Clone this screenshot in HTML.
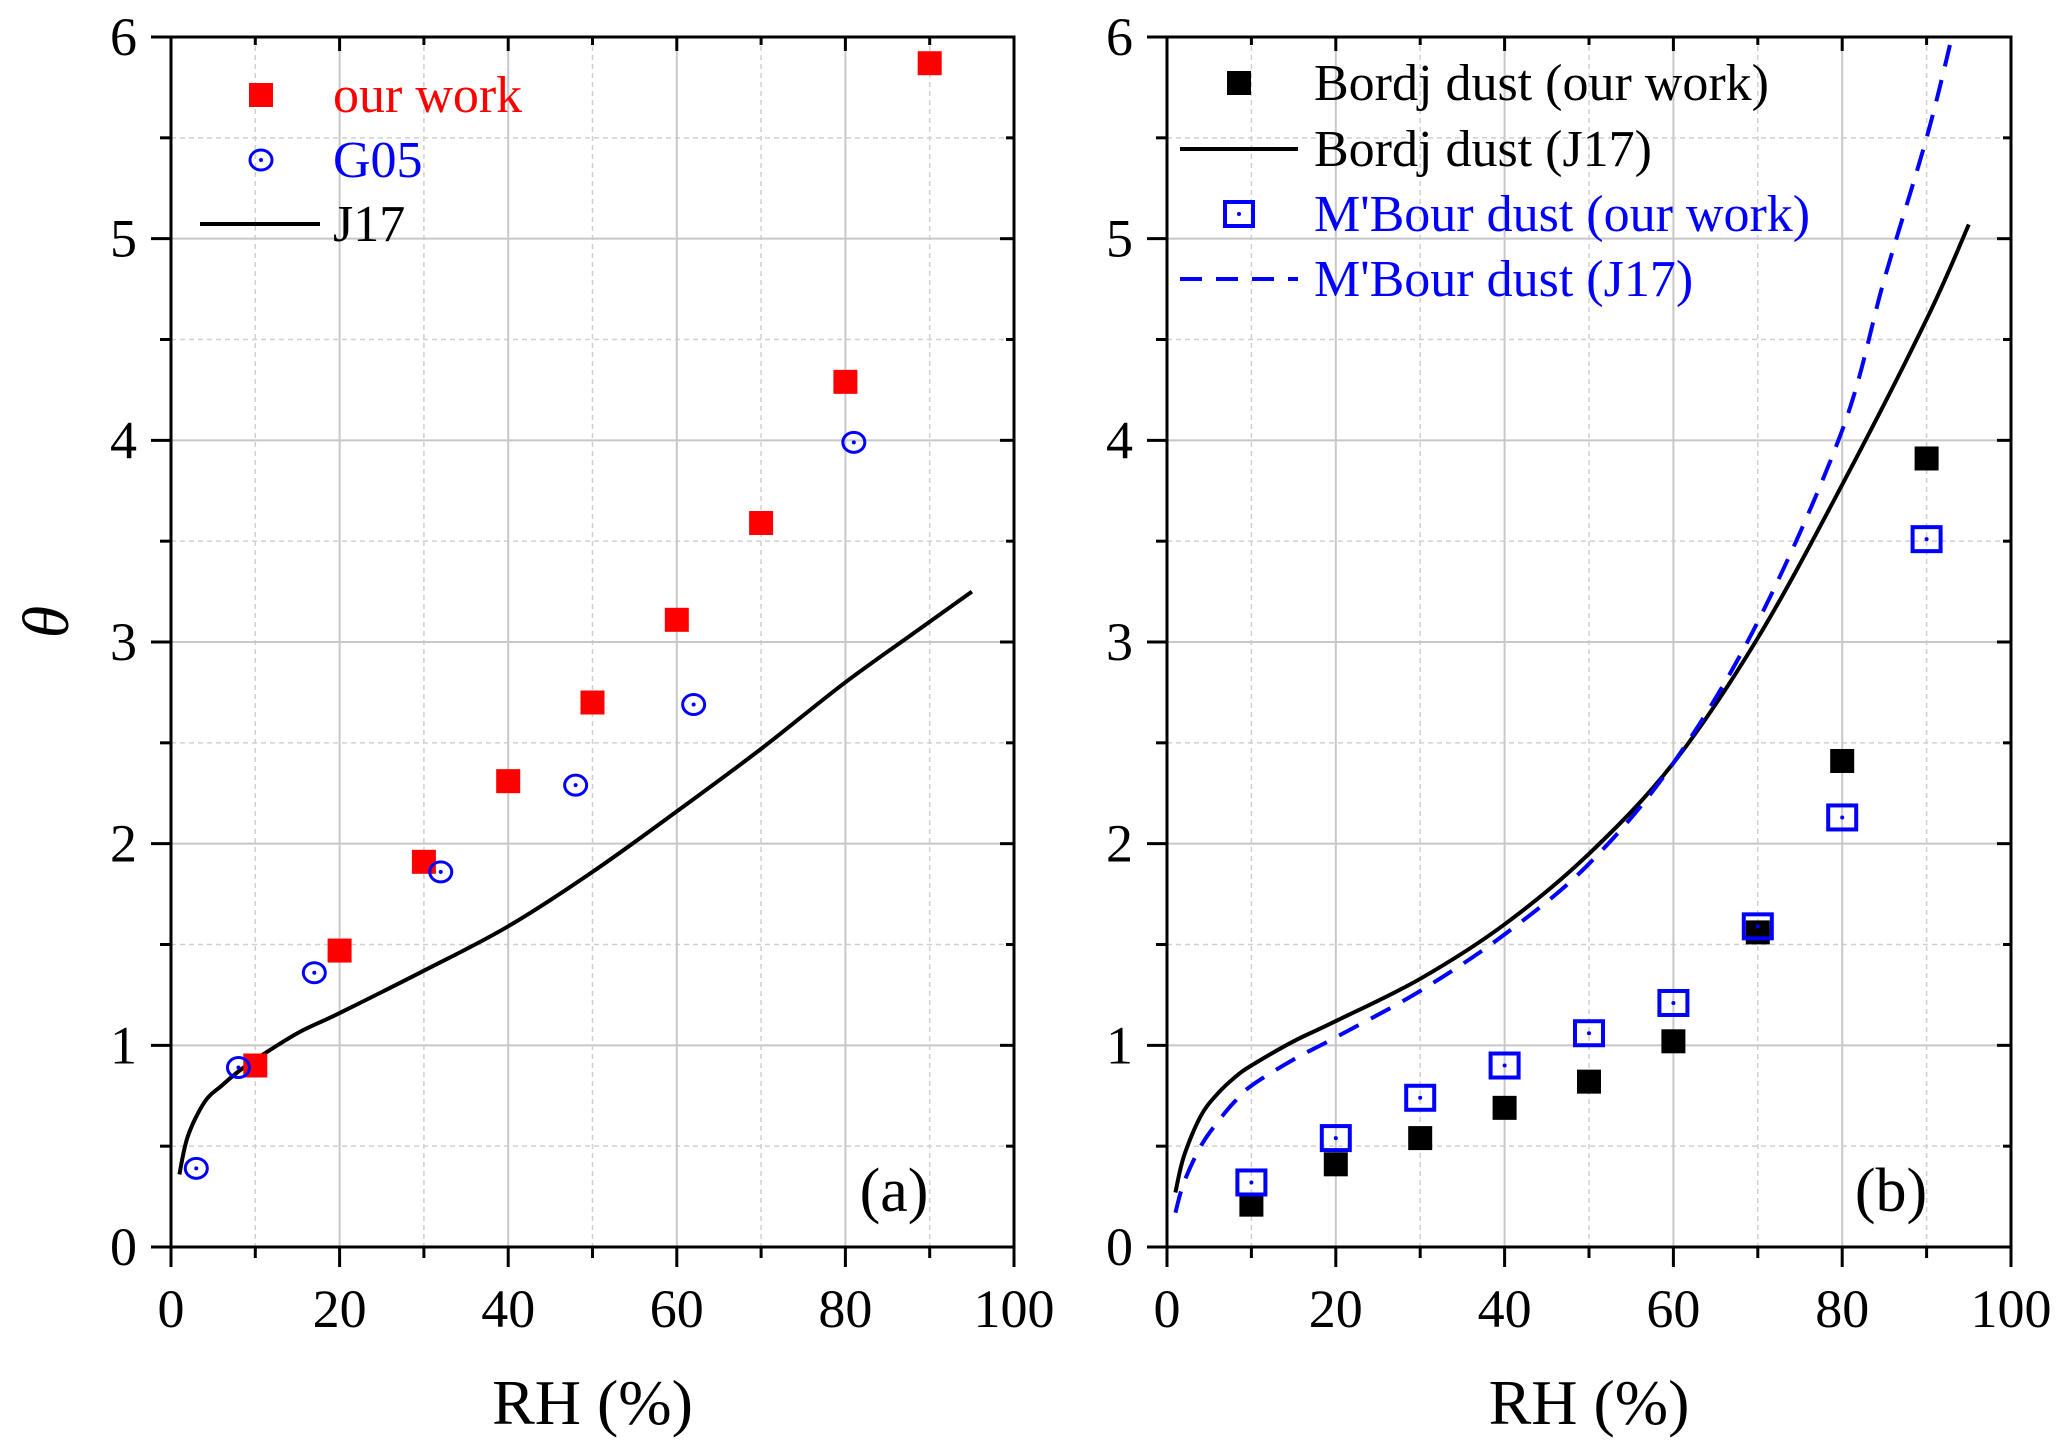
<!DOCTYPE html>
<html><head><meta charset="utf-8"><style>
html,body{margin:0;padding:0;background:#fff;}
svg{display:block;font-family:"Liberation Serif",serif;}
</style></head><body>
<svg id="c" width="2067" height="1453" viewBox="0 0 2067 1453"></svg>
<script>
const xTicks=[0,20,40,60,80,100];
const yTicks=[0,1,2,3,4,5,6];
const aOurX=[10,20,30,40,50,60,70,80,90];
const aOurY=[0.9,1.47,1.91,2.31,2.7,3.11,3.59,4.29,5.87];
const aG05X=[3,8,17,32,48,62,81];
const aG05Y=[0.39,0.89,1.36,1.86,2.29,2.69,3.99];
const aJ17X=[1,2,4,6,8,10,15,20,30,40,50,60,70,80,90,95];
const aJ17Y=[0.36,0.55,0.72,0.8,0.87,0.93,1.06,1.16,1.37,1.59,1.86,2.16,2.47,2.8,3.1,3.25];
const bBordjX=[10,20,30,40,50,60,70,80,90];
const bBordjY=[0.21,0.41,0.54,0.69,0.82,1.02,1.56,2.41,3.91];
const bMbourX=[10,20,30,40,50,60,70,80,90];
const bMbourY=[0.32,0.54,0.74,0.9,1.06,1.21,1.59,2.13,3.51];
const bBordjJX=[1,2,4,6,8,10,15,20,30,40,50,60,70,80,90,95];
const bBordjJY=[0.27,0.45,0.65,0.76,0.84,0.9,1.02,1.12,1.33,1.6,1.95,2.4,3.02,3.78,4.6,5.07];
const bMbourJX=[1,2,4,6,8,10,15,20,30,40,50,60,70,80,85,90,93];
const bMbourJY=[0.17,0.32,0.5,0.62,0.72,0.8,0.93,1.04,1.27,1.55,1.9,2.4,3.1,4.05,4.8,5.5,6.0];

const NS="http://www.w3.org/2000/svg";
const svg=document.getElementById('c');
function mk(tag,attrs,parent){const e=document.createElementNS(NS,tag);for(const k in attrs)e.setAttribute(k,attrs[k]);(parent||svg).appendChild(e);return e;}

function panel(id,L,R,T,B,label){
  const g=mk('g',{});
  
  
  const sx=v=>L+(R-L)*v/100, sy=v=>B-(B-T)*v/6;
  for(let v=10;v<100;v+=20){const l=mk('line',{x1:sx(v),x2:sx(v),y1:T,y2:B,stroke:'#d0d0d0','stroke-width':1.5,'stroke-dasharray':'5,4'},g);}
  for(let v=0.5;v<6;v+=1){const l=mk('line',{x1:L,x2:R,y1:sy(v),y2:sy(v),stroke:'#d0d0d0','stroke-width':1.5,'stroke-dasharray':'5,4'},g);}
  xTicks.forEach(v=>{if(v>0&&v<100){const l=mk('line',{x1:sx(v),x2:sx(v),y1:T,y2:B,stroke:'#c8c8c8','stroke-width':2},g);}});
  yTicks.forEach(v=>{if(v>0&&v<6){const l=mk('line',{x1:L,x2:R,y1:sy(v),y2:sy(v),stroke:'#c8c8c8','stroke-width':2},g);}});
  const tk=[];
  xTicks.forEach(v=>{tk.push([sx(v),B,sx(v),B+20]);tk.push([sx(v),T,sx(v),T+14]);});
  for(let v=10;v<100;v+=20){tk.push([sx(v),B,sx(v),B+11]);tk.push([sx(v),T,sx(v),T+8]);}
  yTicks.forEach(v=>{tk.push([L-20,sy(v),L,sy(v)]);tk.push([R-14,sy(v),R,sy(v)]);});
  for(let v=0.5;v<6;v+=1){tk.push([L-11,sy(v),L,sy(v)]);tk.push([R-8,sy(v),R,sy(v)]);}
  tk.forEach(t=>{const l=mk('line',{x1:t[0],y1:t[1],x2:t[2],y2:t[3],stroke:'#000','stroke-width':3},g);});
  const fr=mk('rect',{x:L,y:T,width:R-L,height:B-T,fill:'none',stroke:'#000','stroke-width':3},g);
  
  xTicks.forEach(v=>{const t=mk('text',{x:sx(v),y:B+80,'font-size':54,'text-anchor':'middle'},g);t.textContent=v;});
  yTicks.forEach(v=>{const t=mk('text',{x:L-34,y:sy(v)+18,'font-size':54,'text-anchor':'end'},g);t.textContent=v;});
  const xt=mk('text',{x:(L+R)/2,y:1424,'font-size':64,'text-anchor':'middle'},g);xt.textContent='RH (%)';
  
  const pl=mk('text',{x:R-120,y:B-36,'font-size':62,'text-anchor':'middle'},g);pl.textContent=label;
  
  return {g,sx,sy};
}
function sq(g,x,y,color,name){const r=mk('rect',{x:x-12,y:y-12,width:24,height:24,fill:color},g);}
function osq(g,x,y,name){const gg=mk('g',{},g);mk('rect',{x:x-14,y:y-12,width:28,height:24,fill:'none',stroke:'#0000ff','stroke-width':4},gg);mk('circle',{cx:x,cy:y,r:2,fill:'#0000ff'},gg);}
function ocirc(g,x,y,name){const gg=mk('g',{},g);mk('ellipse',{cx:x,cy:y,rx:11,ry:10,fill:'none',stroke:'#0000ff','stroke-width':3},gg);mk('circle',{cx:x,cy:y,r:2,fill:'#0000ff'},gg);}
function line(g,p,X,Y,color,dash,name){
  const P=X.map((v,i)=>[p.sx(v),p.sy(Y[i])]);
  let d='M'+P[0][0].toFixed(1)+','+P[0][1].toFixed(1);
  for(let i=0;i<P.length-1;i++){
    const p0=P[Math.max(0,i-1)],p1=P[i],p2=P[i+1],p3=P[Math.min(P.length-1,i+2)];
    const c1=[p1[0]+(p2[0]-p0[0])/6,p1[1]+(p2[1]-p0[1])/6];
    const c2=[p2[0]-(p3[0]-p1[0])/6,p2[1]-(p3[1]-p1[1])/6];
    d+='C'+c1.map(n=>n.toFixed(1)).join(',')+' '+c2.map(n=>n.toFixed(1)).join(',')+' '+p2.map(n=>n.toFixed(1)).join(',');
  }
  const a={d:d,fill:'none',stroke:color,'stroke-width':4,'stroke-linejoin':'round'};if(dash)a['stroke-dasharray']=dash;const e=mk('path',a,g);}
function txt(g,x,y,s,color,name){const t=mk('text',{x:x,y:y,'font-size':52,fill:color},g);t.textContent=s;}

const A=panel('a',171,1014,37,1247,'(a)');
line(A.g,A,aJ17X,aJ17Y,'#000',null,'j17-line');
aOurX.forEach((v,i)=>sq(A.g,A.sx(v),A.sy(aOurY[i]),'#ff0000','our-work-point'));
aG05X.forEach((v,i)=>ocirc(A.g,A.sx(v),A.sy(aG05Y[i]),'g05-point'));
sq(A.g,261,95,'#ff0000','legend-our-work-marker');
txt(A.g,333,112,'our work','#ff0000','legend-our-work');
ocirc(A.g,261,160,'legend-g05-marker');
txt(A.g,333,177,'G05','#0000ff','legend-g05');
const la=mk('line',{x1:200,x2:320,y1:224,y2:224,stroke:'#000','stroke-width':4},A.g);
txt(A.g,333,241,'J17','#000','legend-j17');
const th=mk('text',{x:50,y:640,'font-size':66,'font-style':'italic','text-anchor':'middle',transform:'rotate(-90 50 622)'},A.g);th.textContent='θ';


const B=panel('b',1167,2011,37,1247,'(b)');
const cp=mk('clipPath',{id:'cb'});mk('rect',{x:1167,y:37,width:844,height:1210},cp);
const cg=mk('g',{'clip-path':'url(#cb)'},B.g);
line(cg,B,bBordjJX,bBordjJY,'#000',null,'bordj-j17-line');
line(cg,B,bMbourJX,bMbourJY,'#0000ff','22,14','mbour-j17-line');
bBordjX.forEach((v,i)=>sq(B.g,B.sx(v),B.sy(bBordjY[i]),'#000','bordj-point'));
bMbourX.forEach((v,i)=>osq(B.g,B.sx(v),B.sy(bMbourY[i]),'mbour-point'));
sq(B.g,1239,83,'#000','legend-bordj-marker');
txt(B.g,1314,100,'Bordj dust (our work)','#000','legend-bordj');
const lb1=mk('line',{x1:1180,x2:1298,y1:149,y2:149,stroke:'#000','stroke-width':4},B.g);
txt(B.g,1314,166,'Bordj dust (J17)','#000','legend-bordj-j17');
osq(B.g,1239,214,'legend-mbour-marker');
txt(B.g,1314,231,"M'Bour dust (our work)",'#0000ff','legend-mbour');
const lb2=mk('line',{x1:1180,x2:1298,y1:279,y2:279,stroke:'#0000ff','stroke-width':4,'stroke-dasharray':'22,14'},B.g);
txt(B.g,1314,296,"M'Bour dust (J17)",'#0000ff','legend-mbour-j17');
</script>
</body></html>
